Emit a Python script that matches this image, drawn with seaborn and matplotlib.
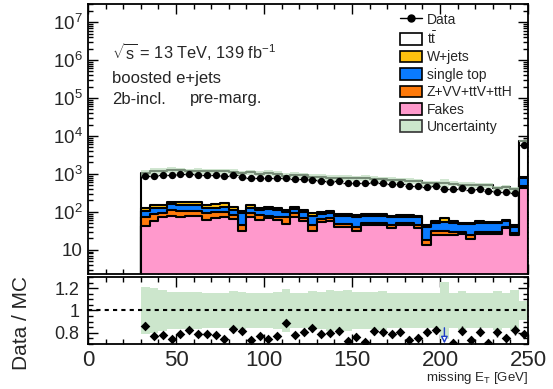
import numpy as np
import pandas as pd
import matplotlib
matplotlib.use("Agg")
import matplotlib.pyplot as plt
import seaborn as sns
from matplotlib.ticker import FixedLocator, MultipleLocator, FuncFormatter, NullFormatter
from matplotlib.patches import Patch
from matplotlib.lines import Line2D

# ---- binning: missing E_T from 30 to 250 GeV in 5 GeV bins (last bin holds overflow)
bin_edges = np.arange(30, 255, 5)
bin_centers = bin_edges[:-1] + 2.5

# ---- observed events per bin
data = [886, 904, 923, 960, 980, 980, 960, 941, 923, 886, 923, 851, 801, 785, 801,
        771, 771, 738, 738, 695, 666, 627, 643, 569, 580, 569, 605, 580, 556, 556,
        483, 483, 463, 474, 403, 396, 420, 379, 403, 357, 336, 330, 322, 5800]

# ---- expected events per process
fakes = [42, 58, 71, 80, 75, 78, 80, 62, 68, 75, 65, 32, 75, 62, 68, 62, 47, 75, 58, 32, 54, 56,
         41, 41, 32, 44, 44, 44, 37, 44, 44, 37, 13, 24, 25, 25, 26, 19, 26, 26, 26, 37, 24, 420]
zvv_ttv_tth = [32, 31, 21, 33, 31, 28, 26, 30, 30, 27, 18, 14, 17, 21, 12, 13, 24, 17, 10, 14, 11, 12,
               6, 6, 9, 8, 8, 8, 7, 8, 8, 8, 5, 8, 7, 5, 4, 6, 4, 4, 4, 2, 4, 60]
single_top = [32, 41, 38, 45, 47, 47, 47, 38, 32, 36, 30, 46, 38, 30, 40, 38, 27, 28, 30, 34, 24, 24,
              33, 33, 34, 28, 28, 28, 27, 23, 23, 28, 22, 18, 22, 20, 17, 22, 20, 20, 20, 17, 13, 300]
wjets = [24, 23, 23, 29, 27, 27, 27, 23, 28, 31, 25, 14, 23, 17, 18, 17, 15, 18, 15, 12, 13, 14,
         9, 9, 8, 7, 7, 7, 9, 8, 8, 6, 6, 8, 14, 8, 3, 3, 6, 4, 4, 6, 3, 70]
ttbar = [895, 1023, 1023, 1096, 1061, 1005, 1035, 1038, 1018, 1025, 974, 934, 940, 891, 937,
         865, 752, 806, 796, 733, 737, 675, 697, 694, 676, 709, 655, 635, 628, 607, 573, 561,
         528, 517, 516, 498, 463, 465, 442, 450, 364, 377, 345, 6492]

# ---- relative systematic uncertainty on the total prediction
rel_unc = [0.21, 0.20, 0.18, 0.17, 0.17, 0.17, 0.165, 0.16, 0.16, 0.16, 0.175, 0.164, 0.154, 0.154,
           0.16, 0.164, 0.194, 0.16, 0.16, 0.179, 0.169, 0.185, 0.179, 0.185, 0.169, 0.169, 0.169,
           0.175, 0.16, 0.154, 0.154, 0.154, 0.154, 0.154, 0.251, 0.154, 0.175, 0.16, 0.154, 0.154,
           0.175, 0.154, 0.185, 0.085]

process_names = ["Fakes", "Z+VV+ttV+ttH", "single top", "W+jets", r"t$\bar{\mathregular{t}}$"]
process_colors = ["#ff99cc", "#ff7a0a", "#0a7bff", "#ffc20e", "#ffffff"]
unc_color = "#cce6cc"

sns.set_theme(style="ticks")
plt.rcParams["font.family"] = ["Liberation Sans", "DejaVu Sans"]
plt.rcParams["mathtext.fontset"] = "custom"
plt.rcParams["mathtext.rm"] = "Liberation Sans"
plt.rcParams["mathtext.it"] = "Liberation Sans:italic"
plt.rcParams["mathtext.bf"] = "Liberation Sans:bold"
plt.rcParams["mathtext.default"] = "regular"

W, H = 553, 389
fig = plt.figure(figsize=(W / 100, H / 100), dpi=100)
ax = fig.add_axes([88 / W, 1 - 274 / H, 440 / W, 270 / H])
rax = fig.add_axes([88 / W, 1 - 344 / H, 440 / W, 67 / H])

components = [np.asarray(v, float) for v in (fakes, zvv_ttv_tth, single_top, wjets, ttbar)]
stack_tops = np.cumsum(components, axis=0)
total = stack_tops[-1]
data_arr = np.asarray(data, float)
unc = np.asarray(rel_unc)

# stacked prediction, drawn from the outermost layer inwards
for top, color in zip(stack_tops[::-1], process_colors[::-1]):
    layer = pd.DataFrame({"met": bin_centers, "events": top})
    sns.histplot(data=layer, x="met", weights="events", binwidth=5, binrange=(30, 250),
                 element="step", fill=True, color=color, alpha=1.0, edgecolor="black",
                 linewidth=1.5, ax=ax)

# uncertainty band on the total
step_x = bin_edges
ax.fill_between(step_x, np.append(total * (1 - unc), total[-1] * (1 - unc[-1])),
                np.append(total * (1 + unc), total[-1] * (1 + unc[-1])),
                step="post", color="#b9dab9", alpha=0.65, lw=0)

# data
ax.errorbar(bin_centers, data_arr, xerr=2.5, yerr=np.sqrt(data_arr), fmt="none",
            ecolor="black", elinewidth=1.0)
sns.scatterplot(x=bin_centers, y=data_arr, color="black", s=28, edgecolor="black",
                linewidth=0, ax=ax, zorder=5)

ax.set_yscale("log")
ax.set_xlim(0, 250)
ax.set_ylim(2.3, 3.0e7)
ax.set_ylabel("")
ax.set_xlabel("")
ax.yaxis.set_major_locator(FixedLocator([1e1, 1e2, 1e3, 1e4, 1e5, 1e6, 1e7]))
ax.yaxis.set_minor_locator(FixedLocator([m * 10.0 ** e for e in range(0, 8) for m in range(2, 10)]))
ax.yaxis.set_major_formatter(FuncFormatter(
    lambda v, p: "10" if abs(v - 10) < 1e-6 else r"$10^{%d}$" % round(np.log10(v))))
ax.yaxis.set_minor_formatter(NullFormatter())
ax.xaxis.set_major_locator(MultipleLocator(50))
ax.xaxis.set_minor_locator(MultipleLocator(10))
ax.tick_params(axis="x", labelbottom=False)

# legend
handles = [
    Line2D([0], [0], color="black", marker="o", markersize=5, lw=1),
    Patch(facecolor="white", edgecolor="black", lw=1.2),
    Patch(facecolor=process_colors[3], edgecolor="black", lw=1.2),
    Patch(facecolor=process_colors[2], edgecolor="black", lw=1.2),
    Patch(facecolor=process_colors[1], edgecolor="black", lw=1.2),
    Patch(facecolor=process_colors[0], edgecolor="black", lw=1.2),
    Patch(facecolor=unc_color, edgecolor="#333333", lw=1.2),
]
labels = ["Data", process_names[4], "W+jets", "single top", "Z+VV+ttV+ttH", "Fakes", "Uncertainty"]
ax.legend(handles, labels, loc="upper left", bbox_to_anchor=(0.709, 0.968), frameon=False,
          fontsize=10, handlelength=1.58, handleheight=0.94, labelspacing=0.25,
          handletextpad=0.36, borderpad=0, borderaxespad=0)

fig.text(112 / W, 1 - 52 / H, r"$\sqrt{s}$ = 13 TeV, 139 fb$^{-1}$", fontsize=11.8, va="center")
fig.text(112 / W, 1 - 79 / H, "boosted e+jets", fontsize=12, va="center")
fig.text(112 / W, 1 - 99 / H, "2b-incl.", fontsize=12, va="center")
fig.text(190 / W, 1 - 99 / H, "pre-marg.", fontsize=12, va="center")

# ratio panel
ratio = data_arr / total
rax.fill_between(step_x, np.append(1 - unc, 1 - unc[-1]), np.append(1 + unc, 1 + unc[-1]),
                 step="post", color=unc_color, lw=0)
rax.axhline(1.0, color="black", ls=(0, (2, 2)), lw=1.5)
inside = ratio >= 0.7
rax.errorbar(bin_centers[inside], ratio[inside], yerr=np.sqrt(data_arr[inside]) / total[inside],
             fmt="none", ecolor="black", elinewidth=1.0)
sns.scatterplot(x=bin_centers[inside], y=ratio[inside], color="black", marker="D", s=24,
                linewidth=0, ax=rax, zorder=5)
# points below the panel range are marked with a downward arrow
for xc in bin_centers[~inside]:
    rax.annotate("", xy=(xc, 0.705), xytext=(xc, 0.845),
                 arrowprops=dict(arrowstyle="-|>,head_length=0.5,head_width=0.25",
                                 color="#2040c8", lw=1.0, fc="white",
                                 mutation_scale=8, shrinkA=0, shrinkB=0), zorder=6)
rax.set_xlim(0, 250)
rax.set_ylim(0.7, 1.3)
rax.set_ylabel("")
rax.set_xlabel("")
rax.yaxis.set_major_locator(FixedLocator([0.8, 1.0, 1.2]))
rax.yaxis.set_major_formatter(FuncFormatter(lambda v, p: "1" if abs(v - 1) < 1e-6 else "%.1f" % v))
rax.yaxis.set_minor_locator(MultipleLocator(0.05))
rax.xaxis.set_major_locator(MultipleLocator(50))
rax.xaxis.set_minor_locator(MultipleLocator(10))

for a in (ax, rax):
    a.tick_params(which="both", direction="in", top=True, right=True, width=1.0, color="black")
    a.tick_params(which="major", length=7)
    a.tick_params(which="minor", length=3.5)
    for s in a.spines.values():
        s.set_linewidth(1.3)
        s.set_color("black")
ax.tick_params(axis="y", labelsize=13.5, pad=4)
rax.tick_params(axis="y", labelsize=13, pad=6)
rax.tick_params(axis="x", labelsize=16, pad=4)

fig.text(22 / W, 1 - 323 / H, "Data / MC", rotation=90, fontsize=15, va="center", ha="center")
fig.text(528 / W, 1 - 378 / H, r"missing E$_{\mathregular{T}}$ [GeV]", fontsize=9.5,
         ha="right", va="center")

fig.savefig("out.png", dpi=100)
